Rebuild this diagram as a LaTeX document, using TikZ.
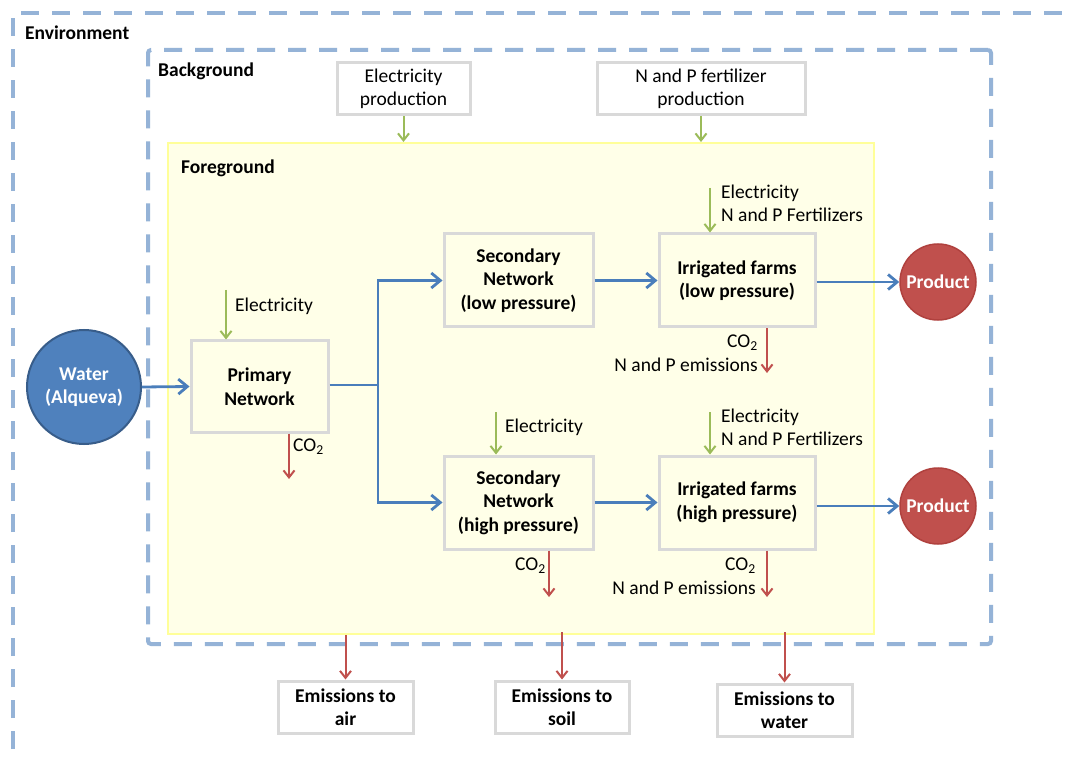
\documentclass[tikz,border=0pt]{standalone}
\usepackage{fontspec}
\setmainfont{Carlito}
\usetikzlibrary{arrows.meta}
\definecolor{dashblue}{HTML}{95B3D7}
\definecolor{flowblue}{HTML}{4A7EBB}
\definecolor{elgreen}{HTML}{9BBB59}
\definecolor{emred}{HTML}{C0504D}
\definecolor{boxgray}{HTML}{D9D9D9}
\definecolor{fgfill}{HTML}{FFFFE8}
\definecolor{fgline}{HTML}{FFFF99}
\definecolor{waterfill}{HTML}{4F81BD}
\definecolor{waterline}{HTML}{385D8A}
\definecolor{prodline}{HTML}{B0413E}
\begin{document}
\begin{tikzpicture}[x=1pt,y=-1pt,
  every node/.style={font=\fontsize{19.5}{23.5}\selectfont, inner sep=0pt},
  dashframe/.style={draw=dashblue, line width=4pt, dash pattern=on 18pt off 13pt},
  procbox/.style={draw=boxgray, line width=3pt, fill=white, align=center, font=\fontsize{19.5}{23.5}\selectfont\bfseries},
  fgprocbox/.style={procbox, fill=fgfill},
  srcbox/.style={draw=boxgray, line width=3pt, fill=white, align=center},
  title/.style={anchor=west, font=\fontsize{19.5}{23.5}\selectfont\bfseries},
  flow/.style={draw=flowblue, line width=2.8pt, -{Straight Barb[length=9pt,width=15pt,line width=2.8pt]}},
  inflow/.style={draw=elgreen, line width=2pt, -{Straight Barb[length=7pt,width=11pt,line width=2pt]}},
  outflow/.style={draw=emred, line width=2pt, -{Straight Barb[length=7pt,width=11pt,line width=2pt]}},
  lbl/.style={align=left},
]
\useasboundingbox (0,0) rectangle (1072,762);
\fill[white] (0,0) rectangle (1072,762);

% Environment
\draw[dashframe] (13,780) -- (13,13) -- (1090,13);
\node[title] (envt) at (25,33) {Environment};

% Background
\node[dashframe, rounded corners=3pt, minimum width=843, minimum height=594] (bg) at (569.5,347) {};
\node[title] (bgt) at (158,71) {Background};

% Background sources
\node[srcbox, minimum width=133, minimum height=52] (ep) at (403.5,89) {Electricity\\production};
\node[srcbox, minimum width=208, minimum height=52] (fp) at (701,89) {N and P fertilizer\\production};

% Foreground
\node[draw=fgline, fill=fgfill, line width=2pt, minimum width=706, minimum height=491] (fg) at (521,388.5) {};
\node[title] (fgt) at (181,168) {Foreground};

\draw[inflow] (ep.south) -- (ep.south |- fg.north);
\draw[inflow] (fp.south) -- (fp.south |- fg.north);

% Water
\node[circle, draw=waterline, fill=waterfill, line width=2pt, minimum size=114, align=center, text=white, font=\fontsize{19.5}{23.5}\selectfont\bfseries] (w) at (84,387) {Water\\(Alqueva)};

% Processes
\node[fgprocbox, minimum width=137, minimum height=91] (pn) at (259.5,386.5) {Primary\\Network};
\node[fgprocbox, minimum width=149, minimum height=93] (sl) at (518.5,280.5) {Secondary\\Network\\(low pressure)};
\node[fgprocbox, minimum width=149, minimum height=93] (sh) at (518.5,502.5) {Secondary\\Network\\(high pressure)};
\node[fgprocbox, minimum width=156, minimum height=93] (il) at (737,280.5) {Irrigated farms\\(low pressure)};
\node[fgprocbox, minimum width=156, minimum height=93] (ih) at (737,502.5) {Irrigated farms\\(high pressure)};

% Products
\node[circle, draw=prodline, fill=emred, line width=1.5pt, minimum size=76, text=white, font=\fontsize{19.5}{23.5}\selectfont\bfseries] (pl) at (938,282) {Product};
\node[circle, draw=prodline, fill=emred, line width=1.5pt, minimum size=76, text=white, font=\fontsize{19.5}{23.5}\selectfont\bfseries] (ph) at (938,506) {Product};

% Emission boxes
\node[srcbox, font=\fontsize{19.5}{23.5}\selectfont\bfseries, minimum width=135, minimum height=52] (ea) at (345.5,707) {Emissions to\\air};
\node[srcbox, font=\fontsize{19.5}{23.5}\selectfont\bfseries, minimum width=134, minimum height=52] (es) at (562,707) {Emissions to\\soil};
\node[srcbox, font=\fontsize{19.5}{23.5}\selectfont\bfseries, minimum width=135, minimum height=52] (ew) at (784.5,710) {Emissions to\\water};

% Main flows
\coordinate (split) at (378,385);
\draw[flow] (w.east) -- (pn.west);
\draw[draw=flowblue, line width=2.8pt] (pn.east |- split) -- (split);
\draw[flow] (split) |- (sl.west);
\draw[flow] (split) |- (sh.west);
\draw[flow] (sl.east) -- (il.west);
\draw[flow] (sh.east) -- (ih.west);
\draw[flow] (il.east |- pl.west) -- (pl.west);
\draw[flow] (ih.east |- ph.west) -- (ph.west);

% Inputs
\coordinate (e1) at (226,290);
\draw[inflow] (e1) -- (e1 |- pn.north);
\node[anchor=west] (e1l) at (235,306) {Electricity};

\coordinate (e2) at (710,188);
\draw[inflow] (e2) -- (e2 |- il.north);
\node[lbl, anchor=west] (e2l) at (721,203.5) {Electricity\\N and P Fertilizers};

\coordinate (e3) at (496,412);
\draw[inflow] (e3) -- (e3 |- sh.north);
\node[anchor=west] (e3l) at (505,427) {Electricity};

\coordinate (e4) at (710,412);
\draw[inflow] (e4) -- (e4 |- ih.north);
\node[lbl, anchor=west] (e4l) at (721,427.5) {Electricity\\N and P Fertilizers};

% Outputs
\coordinate (o1) at (289,479);
\draw[outflow] (o1 |- pn.south) -- (o1);
\node[anchor=west] (o1l) at (293,447) {CO\textsubscript{2}};

\coordinate (o2) at (767,373);
\draw[outflow] (o2 |- il.south) -- (o2);
\node[align=right, anchor=east] (o2l) at (758,353) {CO\textsubscript{2}\\N and P emissions};

\coordinate (o3) at (549,597);
\draw[outflow] (o3 |- sh.south) -- (o3);
\node[anchor=east] (o3l) at (546,566) {CO\textsubscript{2}};

\coordinate (o4) at (767,597);
\draw[outflow] (o4 |- ih.south) -- (o4);
\node[align=right, anchor=east] (o4l) at (756,576) {CO\textsubscript{2}\\N and P emissions};

% To environment
\draw[outflow] (ea.north |- fg.south) -- (ea.north);
\draw[outflow] ([yshift=3pt]es.north |- fg.south) -- (es.north);
\draw[outflow] ([yshift=3pt]ew.north |- fg.south) -- (ew.north);
\end{tikzpicture}
\end{document}
